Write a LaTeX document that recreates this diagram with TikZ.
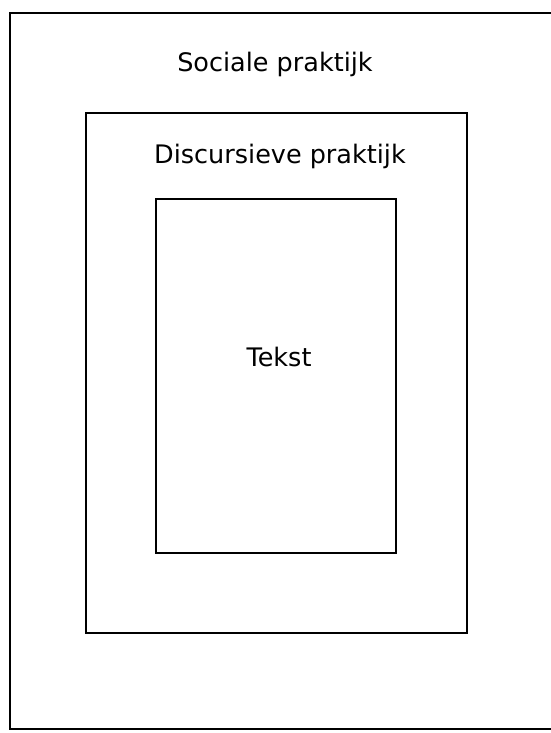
\documentclass[tikz,border=0pt]{standalone}
\usepackage{fontspec}
\setmainfont{DejaVu Sans}
\usetikzlibrary{positioning}

\begin{document}
\begin{tikzpicture}[x=1pt,y=-1pt,
  laag/.style={draw,line width=1.8pt,inner sep=0pt,outer sep=0pt},
  label/.style={font=\fontsize{25.5}{30}\selectfont,anchor=base,inner sep=0pt}]
  \useasboundingbox[fill=white] (0,0) rectangle (550,733);
  % Sociale praktijk
  \node[laag,minimum width=542pt,minimum height=716pt] (sociaal) at (281,371) {};
  \node[label] (sociaaltxt) at (275,72) {Sociale praktijk};
  % Discursieve praktijk
  \node[laag,minimum width=381pt,minimum height=520pt] (discours) at (276.5,373) {};
  \node[label] (discourstxt) at (280,163) {Discursieve praktijk};
  % Tekst
  \node[laag,minimum width=240pt,minimum height=354pt] (tekst) at (276,376) {};
  \node[label] (teksttxt) at (279,366) {Tekst};
\end{tikzpicture}
\end{document}
